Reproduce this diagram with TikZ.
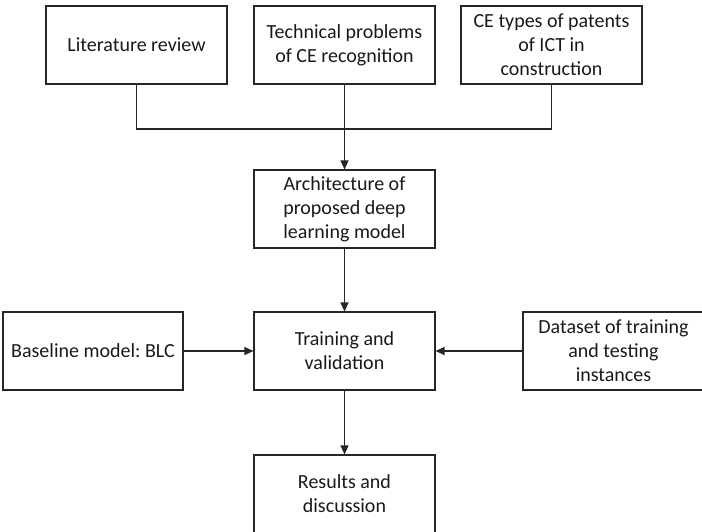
\documentclass[tikz,border=0pt]{standalone}
\usepackage{fontspec}
\setmainfont{Carlito}
\frenchspacing
\usetikzlibrary{arrows.meta}
\tikzset{
  box/.style={draw=black!85, line width=1.1pt, minimum width=181pt, minimum height=78pt,
    inner sep=0pt, align=center, font=\fontsize{20}{24}\selectfont, text=black!90},
  conn/.style={draw=black!85, line width=1.1pt},
  arr/.style={conn, -{Triangle[length=9pt,width=8pt]}}
}
\begin{document}
\begin{tikzpicture}[x=1pt,y=-1pt]
\useasboundingbox (0,0) rectangle (702,531);
\node[box] (lit)   at (136.5,45)  {Literature review};
\node[box] (tech)  at (344.5,45)  {Technical problems\\of CE recognition};
\node[box] (ce)    at (551.5,45)  {CE types of patents\\of ICT in\\construction};
\node[box] (arch)  at (344.5,209) {Architecture of\\proposed deep\\learning model};
\node[box] (train) at (344.5,351) {Training and\\validation};
\node[box, minimum width=180pt] (base) at (93,351) {Baseline model: BLC};
\node[box] (data)  at (613.5,351) {Dataset of training\\and testing\\instances};
\node[box] (res)   at (344.5,494) {Results and\\discussion};
\coordinate (j) at (344.5,129);
\draw[conn] (lit.south) |- (j) -| (ce.south);
\draw[arr] (tech.south) -- (arch.north);
\draw[arr] (arch.south) -- (train.north);
\draw[arr] (base.east) -- (train.west);
\draw[arr] (data.west) -- (train.east);
\draw[arr] (train.south) -- (res.north);
\end{tikzpicture}
\end{document}
